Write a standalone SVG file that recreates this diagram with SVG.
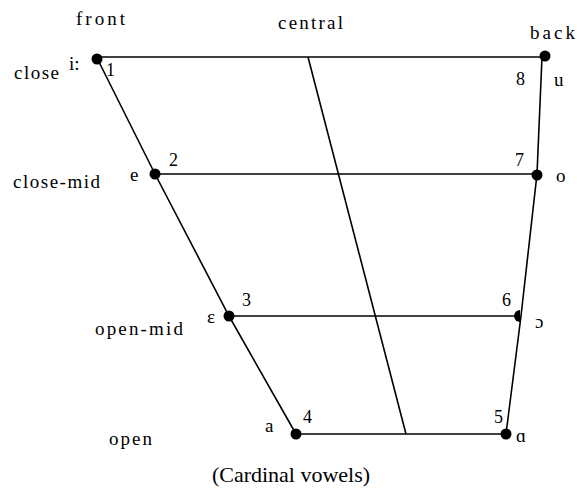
<svg xmlns="http://www.w3.org/2000/svg" width="577" height="491" viewBox="0 0 577 491">
<style>
.t{font-family:"Liberation Serif","Times New Roman",serif;font-size:19px;fill:#000}
.n{font-family:"Liberation Serif","Times New Roman",serif;font-size:18px;fill:#000}
.c{font-family:"Liberation Serif","Times New Roman",serif;font-size:22px;fill:#000}
.l{stroke:#000;stroke-width:1.6;fill:none}
.d{fill:#000}
</style>
<rect width="577" height="491" fill="#fff"/>
<g id="connectors">
<line class="l" x1="97" y1="57" x2="545" y2="57"/>
<line class="l" x1="155" y1="174" x2="537" y2="174"/>
<line class="l" x1="229" y1="316" x2="520" y2="316"/>
<line class="l" x1="296" y1="434" x2="506" y2="434"/>
<polyline class="l" points="97,58 155,174 229,316 296,434"/>
<polyline class="l" points="542,57 537,174 521,316 506,434"/>
<line class="l" x1="308" y1="57" x2="406" y2="434"/>
</g>
<g id="axis-labels">
<text class="t" x="76" y="25" textLength="49" lengthAdjust="spacing">front</text>
<text class="t" x="278" y="29" textLength="65" lengthAdjust="spacing">central</text>
<text class="t" x="530" y="39" textLength="45" lengthAdjust="spacing">back</text>
<text class="t" x="14" y="79" textLength="45" lengthAdjust="spacing">close</text>
<text class="t" x="13" y="188" textLength="87" lengthAdjust="spacing">close-mid</text>
<text class="t" x="95" y="335" textLength="88" lengthAdjust="spacing">open-mid</text>
<text class="t" x="109" y="445" textLength="43" lengthAdjust="spacing">open</text>
</g>
<g id="v1"><circle class="d" cx="97" cy="59" r="5.5"/><text class="t" x="69" y="70">i:</text><text class="n" x="106" y="76">1</text></g>
<g id="v2"><circle class="d" cx="155" cy="174" r="5.5"/><text class="t" x="130" y="181">e</text><text class="n" x="169" y="166">2</text></g>
<g id="v3"><circle class="d" cx="229" cy="316" r="5.5"/><text class="t" x="207" y="323">ε</text><text class="n" x="242" y="306">3</text></g>
<g id="v4"><circle class="d" cx="296" cy="434" r="5.5"/><text class="t" x="265" y="432">a</text><text class="n" x="303" y="423">4</text></g>
<g id="v5"><circle class="d" cx="506" cy="434" r="5.5"/><text class="n" x="494" y="423">5</text><text class="t" x="516" y="442">ɑ</text></g>
<g id="v6"><path class="d" d="M520,310 A6,6 0 0 0 520,322 Z"/><text class="n" x="502" y="306">6</text><text class="t" x="535" y="328">ɔ</text></g>
<g id="v7"><circle class="d" cx="537" cy="175" r="5.5"/><text class="n" x="515" y="166">7</text><text class="t" x="556" y="182">o</text></g>
<g id="v8"><circle class="d" cx="545" cy="56" r="5.5"/><text class="n" x="516" y="85">8</text><text class="t" x="554" y="86">u</text></g>
<text class="c" x="291" y="482" text-anchor="middle">(Cardinal vowels)</text>
</svg>
